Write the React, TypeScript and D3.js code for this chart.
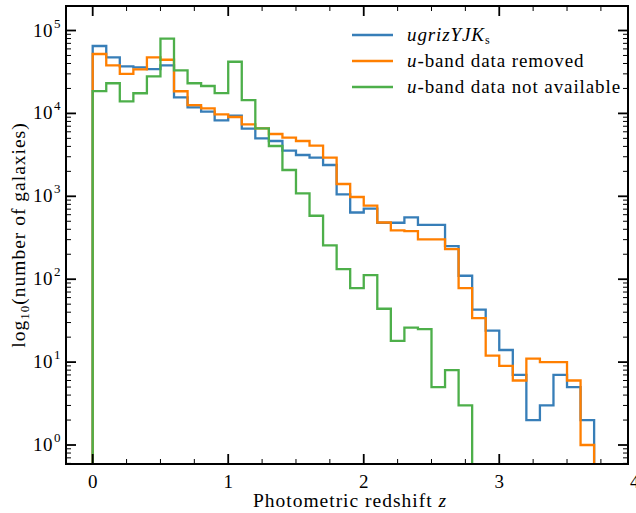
import React from "react";
import * as d3 from "d3";

// Counts per redshift bin (bin width 0.1, starting at z = 0)
const binWidth = 0.1;
const allBands = [65000, 47500, 37000, 36000, 34300, 38000, 15600, 11850, 10500, 8260, 9380, 6540, 5010, 4645, 3550, 3150, 2920, 2385, 1057, 638, 709, 480, 480, 558, 451, 451, 251, 110, 43, 24, 14, 7, 2, 3, 7, 5, 2];
const uRemoved = [52100, 38000, 29900, 34000, 47500, 44400, 18500, 12600, 11500, 9750, 9050, 7390, 6610, 5640, 5090, 4645, 4080, 2920, 1407, 981, 774, 483, 389, 381, 303, 303, 231, 78, 34, 12, 9, 6, 11, 10, 10, 6, 1];
const uMissing = [18600, 23100, 14000, 17500, 28000, 79600, 33100, 23100, 21400, 17600, 42000, 14500, 6610, 4045, 2077, 1087, 583, 256, 132, 78, 112, 44, 18, 26, 25, 5, 8, 3];

const xMajorTicks = [0, 1, 2, 3, 4];
const yMajorExponents = [0, 1, 2, 3, 4, 5];

const W = 636;
const H = 513;
const left = 66, right = 628, top = 6, bottom = 464;
const FONT = "'Liberation Serif', 'DejaVu Serif', serif";

const x = d3.scaleLinear().domain([-0.197, 3.95]).range([left, right]);
const y = d3.scaleLog().domain([0.59, 1.975e5]).range([bottom, top]);

function stepPath(counts: number[]): string {
  const pts: [number, number][] = [];
  const yb = bottom + 10;
  pts.push([x(0), yb]);
  counts.forEach((c, i) => {
    const x0 = x(i * binWidth);
    const x1 = x((i + 1) * binWidth);
    pts.push([x0, y(c)]);
    pts.push([x1, y(c)]);
  });
  pts.push([x(counts.length * binWidth), yb]);
  return d3.line()(pts) as string;
}

const series = [
  { name: "all", data: allBands, color: "#377eb8" },
  { name: "removed", data: uRemoved, color: "#ff7f00" },
  { name: "missing", data: uMissing, color: "#4daf4a" },
];

export default function App() {
  const [xMin, xMax] = x.domain();
  const xMinor: number[] = [];
  for (let v = 0.25; v < xMax; v += 0.25) {
    if (Math.abs(v - Math.round(v)) > 1e-6) xMinor.push(v);
  }
  const yMinor: number[] = [];
  for (let e = -1; e <= 5; e++) {
    for (let m = 2; m <= 9; m++) {
      const v = m * Math.pow(10, e);
      if (v >= 0.59 && v <= 1.975e5) yMinor.push(v);
    }
  }

  const legendRows = [
    { color: "#377eb8", y: 35, label: (
      <>
        <tspan fontStyle="italic">ugrizYJK</tspan>
        <tspan fontSize={12} dy={3}>s</tspan>
      </>
    ) },
    { color: "#ff7f00", y: 61, label: (
      <>
        <tspan fontStyle="italic">u</tspan>-band data removed
      </>
    ) },
    { color: "#4daf4a", y: 87, label: (
      <>
        <tspan fontStyle="italic">u</tspan>-band data not available
      </>
    ) },
  ];

  return (
    <svg width={W} height={H} style={{ position: "absolute", left: 0, top: 0 }} fontFamily={FONT}>
      <rect x={0} y={0} width={W} height={H} fill="white" />
      <defs>
        <clipPath id="plotArea">
          <rect x={left} y={top} width={right - left} height={bottom - top} />
        </clipPath>
      </defs>

      <g clipPath="url(#plotArea)">
        {series.map((s) => (
          <path key={s.name} d={stepPath(s.data)} fill="none" stroke={s.color} strokeWidth={2.3} strokeLinejoin="miter" />
        ))}
      </g>

      {/* x ticks, bottom and top, pointing inwards */}
      {xMajorTicks.map((t) => (
        <g key={"xM" + t}>
          {t <= xMax && t >= xMin && (
            <>
              <line x1={x(t)} x2={x(t)} y1={bottom} y2={bottom - 10} stroke="black" strokeWidth={1.8} />
              <line x1={x(t)} x2={x(t)} y1={top} y2={top + 10} stroke="black" strokeWidth={1.8} />
            </>
          )}
          <text x={x(t)} y={488} fontSize={19} textAnchor="middle">{t}</text>
        </g>
      ))}
      {xMinor.map((t) => (
        <g key={"xm" + t}>
          <line x1={x(t)} x2={x(t)} y1={bottom} y2={bottom - 5} stroke="black" strokeWidth={1} />
          <line x1={x(t)} x2={x(t)} y1={top} y2={top + 5} stroke="black" strokeWidth={1} />
        </g>
      ))}

      {/* y ticks, left and right */}
      {yMajorExponents.map((e) => {
        const yy = y(Math.pow(10, e));
        return (
          <g key={"yM" + e}>
            <line x1={left} x2={left + 10} y1={yy} y2={yy} stroke="black" strokeWidth={1.8} />
            <line x1={right} x2={right - 10} y1={yy} y2={yy} stroke="black" strokeWidth={1.8} />
            <text x={53} y={yy + 6} fontSize={19} textAnchor="end" letterSpacing={0.5}>10</text>
            <text x={54} y={yy - 3} fontSize={13} textAnchor="start">{e}</text>
          </g>
        );
      })}
      {yMinor.map((v, i) => (
        <g key={"ym" + i}>
          <line x1={left} x2={left + 5} y1={y(v)} y2={y(v)} stroke="black" strokeWidth={1} />
          <line x1={right} x2={right - 5} y1={y(v)} y2={y(v)} stroke="black" strokeWidth={1} />
        </g>
      ))}

      <rect x={left} y={top} width={right - left} height={bottom - top} fill="none" stroke="black" strokeWidth={2} />

      {/* axis titles */}
      <text x={(left + right) / 2 + 3} y={507} fontSize={19.5} textAnchor="middle" letterSpacing={1}>
        Photometric redshift <tspan fontStyle="italic">z</tspan>
      </text>
      <text transform={`translate(25, ${(top + bottom) / 2}) rotate(-90)`} fontSize={19.5} textAnchor="middle" letterSpacing={1}>
        log<tspan fontSize={13} dy={4}>10</tspan><tspan dy={-4}>(number of galaxies)</tspan>
      </text>

      {/* legend */}
      {legendRows.map((r, i) => (
        <g key={"lg" + i}>
          <line x1={352} x2={393} y1={r.y} y2={r.y} stroke={r.color} strokeWidth={2.3} />
          <text x={407} y={r.y + 6} fontSize={19} letterSpacing={0.9}>{r.label}</text>
        </g>
      ))}
    </svg>
  );
}
